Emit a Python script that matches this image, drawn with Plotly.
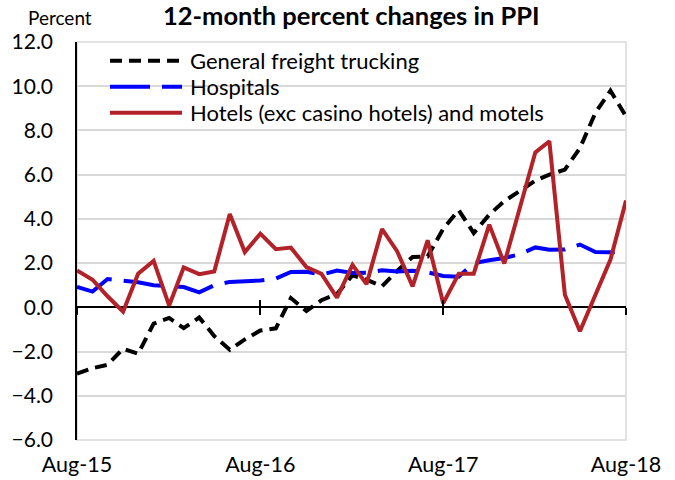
import plotly.graph_objects as go

months = [f"{y}-{m:02d}-01" for y, m in
          [(2015, m) for m in range(8, 13)] + [(2016, m) for m in range(1, 13)] +
          [(2017, m) for m in range(1, 13)] + [(2018, m) for m in range(1, 9)]]

trucking = [-3.0, -2.75, -2.6, -1.87, -2.1, -0.74, -0.48, -0.94, -0.46, -1.3,
            -1.92, -1.45, -1.05, -0.95, 0.42, -0.17, 0.32, 0.6, 1.45, 1.25,
            0.95, 1.65, 2.28, 2.3, 3.55, 4.4, 3.36, 4.19, 4.8, 5.25,
            5.73, 6.0, 6.23, 7.2, 8.8, 9.8, 8.64]
hospitals = [0.92, 0.71, 1.28, 1.22, 1.13, 1.0, 0.98, 0.92, 0.68, 1.0,
             1.15, 1.18, 1.21, 1.3, 1.6, 1.61, 1.48, 1.66, 1.55, 1.56,
             1.68, 1.62, 1.65, 1.58, 1.42, 1.38, 2.0, 2.13, 2.23, 2.4,
             2.71, 2.6, 2.62, 2.84, 2.5, 2.49, 2.5]
hotels = [1.67, 1.25, 0.5, -0.2, 1.52, 2.1, 0.08, 1.8, 1.5, 1.62,
          4.22, 2.5, 3.33, 2.63, 2.7, 1.82, 1.51, 0.44, 1.92, 1.05,
          3.54, 2.54, 0.95, 3.03, 0.18, 1.52, 1.52, 3.74, 1.98, 4.5,
          7.01, 7.51, 0.57, -1.08, 0.55, 2.16, 4.83]

series_names = ["General freight trucking", "Hospitals",
                "Hotels (exc casino hotels) and motels"]
series_colors = ["#000000", "#0000FF", "#B22228"]
series_dash = ["12px,7px", "40px,12px", "solid"]

tick_dates = ["2015-08-01", "2016-08-01", "2017-08-01", "2018-08-01"]
tick_text = ["Aug-15", "Aug-16", "Aug-17", "Aug-18"]
y_ticks = [-6, -4, -2, 0, 2, 4, 6, 8, 10, 12]

FONT = "Lato"

fig = go.Figure()
for name, vals, col, dash in zip(series_names, [trucking, hospitals, hotels],
                                 series_colors, series_dash):
    fig.add_trace(go.Scatter(x=months, y=vals, mode="lines", name=name,
                             line=dict(color=col, width=4, dash=dash),
                             showlegend=False))

xr = [tick_dates[0], tick_dates[-1]]
zero_pos = (0 - y_ticks[0]) / (y_ticks[-1] - y_ticks[0])

fig.update_layout(
    width=675, height=480,
    margin=dict(l=77, r=49, t=42, b=40),
    paper_bgcolor="white", plot_bgcolor="white",
    font=dict(family=FONT, size=21, color="black"),
    xaxis=dict(range=xr, type="date", tickvals=tick_dates, ticktext=tick_text,
               ticks="", showgrid=False, showline=False, zeroline=False,
               automargin=False, ticklabelstandoff=9, tickfont=dict(size=21.5)),
    xaxis2=dict(range=xr, type="date", overlaying="x", anchor="free",
                position=zero_pos, tickvals=tick_dates, ticks="outside",
                ticklen=7, tickwidth=1.5, tickcolor="black", showticklabels=False,
                showgrid=False, showline=False, zeroline=False, automargin=False),
    xaxis3=dict(range=xr, type="date", overlaying="x", anchor="free",
                position=zero_pos, tickvals=tick_dates, ticks="inside",
                ticklen=7, tickwidth=1.5, tickcolor="black", showticklabels=False,
                showgrid=False, showline=False, zeroline=False, automargin=False),
    yaxis=dict(range=[y_ticks[0], y_ticks[-1]], tickvals=y_ticks,
               tickformat=".1f", showgrid=True, gridcolor="#D9D9D9", gridwidth=1.5,
               zeroline=True, zerolinecolor="black", zerolinewidth=1.5,
               showline=True, linecolor="black", linewidth=1.5, automargin=False,
               ticks="", ticklabelstandoff=18, tickfont=dict(size=21)),
    shapes=[dict(type="rect", xref="paper", yref="paper", x0=0, x1=1, y0=0, y1=1,
                 line=dict(color="#D9D9D9", width=1.5), layer="below")],
)

# dummy traces so the overlay tick axes are drawn
fig.add_trace(go.Scatter(x=[months[0]], y=[None], xaxis="x2", showlegend=False,
                         hoverinfo="skip"))
fig.add_trace(go.Scatter(x=[months[0]], y=[None], xaxis="x3", showlegend=False,
                         hoverinfo="skip"))

# title and unit label
fig.add_annotation(text="<b>12-month percent changes in PPI</b>", xref="paper",
                   yref="paper", x=0.5, y=1.0, yshift=27, showarrow=False,
                   font=dict(size=25.5, family=FONT), xanchor="center", yanchor="middle")
fig.add_annotation(text="Percent", xref="paper", yref="paper", x=0, y=1.0,
                   xshift=-51, yshift=25, showarrow=False,
                   font=dict(size=19, family=FONT), xanchor="left", yanchor="middle")

# manual legend
legend_rows_px = [60.7, 86.7, 112.7]
plot_top, plot_h, plot_left, plot_w = 42, 398, 77, 549
for name, col, dash, ypx in zip(series_names, series_colors, series_dash, legend_rows_px):
    yp = 1 - (ypx - plot_top) / plot_h
    x0 = (110 - plot_left) / plot_w
    x1 = (182 - plot_left) / plot_w
    fig.add_shape(type="line", xref="paper", yref="paper", x0=x0, x1=x1, y0=yp, y1=yp,
                  line=dict(color=col, width=4, dash=dash))
    fig.add_annotation(text=name, xref="paper", yref="paper",
                       x=(188 - plot_left) / plot_w, y=yp, showarrow=False,
                       xanchor="left", yanchor="middle", font=dict(size=22, family=FONT))

fig.write_html("out.html", config={"displayModeBar": False},
               post_script="document.body.style.margin='0';")
